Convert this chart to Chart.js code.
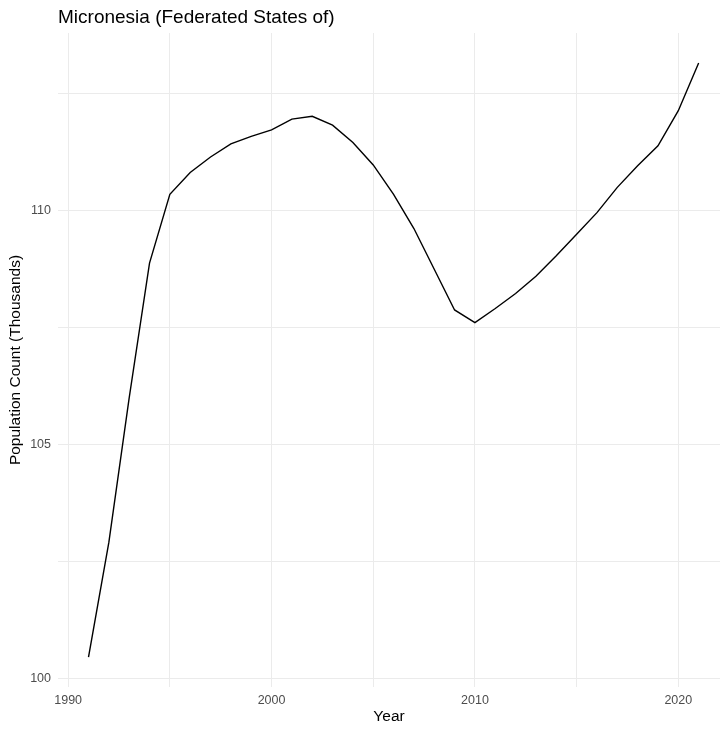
<!DOCTYPE html>
<html>
<head>
<meta charset="utf-8">
<script src="https://cdn.jsdelivr.net/npm/chart.js@4"></script>
<style>
  body { margin: 0; background: #ffffff; }
  #chart { display: block; }
</style>
</head>
<body>
<canvas id="chart" width="720" height="729"></canvas>
<script>
const years = [
  1991, 1992, 1993, 1994, 1995, 1996, 1997, 1998, 1999, 2000,
  2001, 2002, 2003, 2004, 2005, 2006, 2007, 2008, 2009, 2010,
  2011, 2012, 2013, 2014, 2015, 2016, 2017, 2018, 2019, 2020, 2021,
];
const population = [
  100.45, 102.9, 105.99, 108.87, 110.34, 110.81, 111.14, 111.42, 111.58, 111.72,
  111.95, 112.01, 111.82, 111.45, 110.97, 110.34, 109.61, 108.74, 107.87, 107.6,
  107.9, 108.22, 108.59, 109.03, 109.49, 109.95, 110.49, 110.95, 111.38, 112.13, 113.15,
];
const xTicks = [1990, 1995, 2000, 2005, 2010, 2015, 2020];
const yTicks = [100, 102.5, 105, 107.5, 110, 112.5];

const ctx = document.getElementById("chart");
const grid = "#ebebeb";
const tickColor = "#4d4d4d";
const family = "Liberation Sans, Arial, sans-serif";

new Chart(ctx, {
  type: "line",
  data: {
    datasets: [
      {
        data: years.map((y, i) => ({ x: y, y: population[i] })),
        borderColor: "#000000",
        borderWidth: 1.4,
        pointRadius: 0,
        tension: 0,
        fill: false,
      },
    ],
  },
  options: {
    responsive: false,
    animation: false,
    layout: { padding: 0 },
    plugins: {
      legend: { display: false },
      tooltip: { enabled: false },
      title: {
        display: true,
        text: "Micronesia (Federated States of)",
        align: "start",
        fullSize: false,
        color: "#000000",
        font: { family: family, size: 19, weight: "normal" },
        padding: { top: 6, bottom: 4.2 },
      },
    },
    scales: {
      x: {
        type: "linear",
        min: 1989.5,
        max: 2022.05,
        afterBuildTicks: (scale) => {
          scale.ticks = xTicks.map((v) => ({ value: v }));
        },
        afterFit: (scale) => {
          scale.height = 42;
        },
        grid: { color: grid, lineWidth: 1, drawTicks: false },
        border: { display: false },
        ticks: {
          color: tickColor,
          font: { family: family, size: 12.5 },
          padding: 6,
          maxRotation: 0,
          autoSkip: false,
          callback: (v) => (v % 10 === 0 ? String(v) : ""),
        },
        title: {
          display: true,
          text: "Year",
          color: "#000000",
          font: { family: family, size: 15.5 },
          padding: { top: 0, bottom: 3 },
        },
      },
      y: {
        min: 99.81,
        max: 113.79,
        afterBuildTicks: (scale) => {
          scale.ticks = yTicks.map((v) => ({ value: v }));
        },
        afterFit: (scale) => {
          scale.width = 58;
        },
        grid: { color: grid, lineWidth: 1, drawTicks: false },
        border: { display: false },
        ticks: {
          color: tickColor,
          font: { family: family, size: 12.5 },
          padding: 7,
          autoSkip: false,
          callback: (v) => (v % 5 === 0 ? String(v) : ""),
        },
        title: {
          display: true,
          text: "Population Count (Thousands)",
          color: "#000000",
          font: { family: family, size: 15.5 },
          padding: { top: 6, bottom: 0 },
        },
      },
    },
  },
});
</script>
</body>
</html>
